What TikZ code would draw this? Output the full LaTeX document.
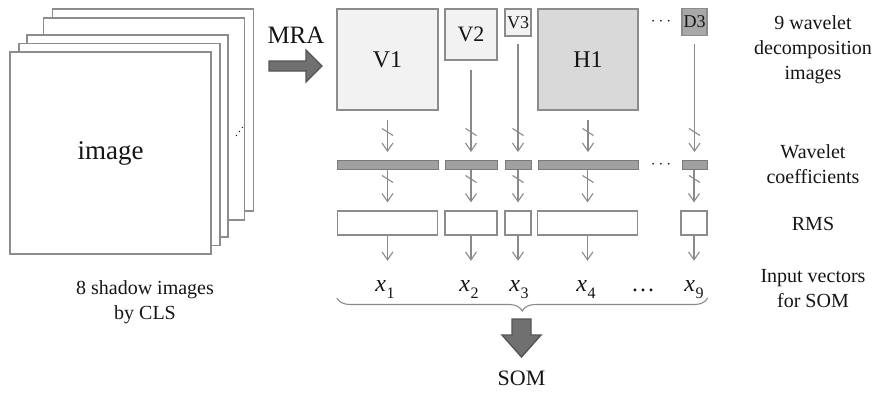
\documentclass[tikz,border=0pt]{standalone}
\usepackage{fontspec}
\setmainfont{Liberation Serif}
\usetikzlibrary{arrows.meta,decorations.pathreplacing,calc}
\definecolor{linegray}{HTML}{8A8A8A}
\definecolor{boxline}{HTML}{8C8C8C}
\definecolor{lightfill}{HTML}{F2F2F2}
\definecolor{midfill}{HTML}{D9D9D9}
\definecolor{darkfill}{HTML}{A8A8A8}
\definecolor{barfill}{HTML}{A0A0A0}
\definecolor{barline}{HTML}{7A7A7A}
\definecolor{bigfill}{HTML}{707070}
\definecolor{bigline}{HTML}{555555}
\definecolor{txt}{HTML}{151515}
\newcommand{\xsub}[1]{\textit{x}\kern0.5pt\raisebox{-0.32em}{\fontsize{16}{16}\selectfont #1}}
\begin{document}
\begin{tikzpicture}[x=1pt,y=-1pt,
  every node/.style={text=txt},
  layer/.style={draw=boxline, line width=1.4pt, fill=white, minimum width=201pt, minimum height=202pt, inner sep=0pt},
  dbox/.style={draw=boxline, line width=1.2pt, inner sep=0pt},
  barbox/.style={draw=barline, line width=1pt, fill=barfill, minimum height=9pt, inner sep=0pt},
  rmsbox/.style={draw=boxline, line width=1.2pt, fill=white, minimum height=24pt, inner sep=0pt},
  arr/.style={draw=linegray, line width=1.1pt, -{Straight Barb[length=8pt,width=11pt]}},
  slashst/.style={draw=linegray, line width=1.1pt},
  lbl/.style={align=center, font=\fontsize{20}{25}\selectfont},
  xlab/.style={anchor=base, inner sep=0pt, text height=14pt, text depth=0pt, font=\fontsize{24}{24}\selectfont},
  bigarrow/.style={fill=bigfill, draw=bigline, line width=1.4pt, line join=miter},
  bracest/.style={draw=linegray, line width=1.1pt, decorate, decoration={brace, mirror, amplitude=13pt}}
]
\useasboundingbox (0,0) rectangle (878,394);

% stacked shadow images
\node[layer] (L5) at (153,110) {};
\node[layer] (L4) at (144,119) {};
\node[layer] (L3) at (127.5,136) {};
\node[layer] (L2) at (119.5,144.5) {};
\node[layer, font=\fontsize{27}{27}\selectfont] (L1) at (110.5,153) {image};
\node[inner sep=0pt, font=\fontsize{12}{12}\selectfont] (sdots) at (236.5,132) {\rotatebox{90}{$\ddots$}};
\node[lbl] (shadow) at (145,302) {8 shadow images\\by CLS};

% MRA arrow
\node[font=\fontsize{25}{25}\selectfont] (mra) at (296,35) {MRA};
\draw[bigarrow] (269,61) -- (306,61) -- (306,50) -- (322,66) -- (306,82) -- (306,71) -- (269,71) -- cycle;

% decomposition images
\node[dbox, fill=lightfill, minimum width=101pt, minimum height=101pt, font=\fontsize{24}{24}\selectfont] (V1) at (387.5,59.5) {V1};
\node[dbox, fill=lightfill, minimum width=52pt, minimum height=51pt, font=\fontsize{22}{22}\selectfont] (V2) at (471,34.5) {V2};
\node[dbox, fill=lightfill, minimum width=26pt, minimum height=27pt, font=\fontsize{18}{18}\selectfont] (V3) at (518,22.5) {V3};
\node[dbox, fill=midfill, minimum width=100pt, minimum height=101pt, font=\fontsize{24}{24}\selectfont] (H1) at (588,59.5) {H1};
\node[dbox, fill=darkfill, minimum width=25pt, minimum height=27pt, font=\fontsize{18}{18}\selectfont] (D3) at (694.5,22) {D3};
\node[font=\fontsize{17}{17}\selectfont] (tdots) at (661,22) {$\cdots$};

% coefficient bars
\node[barbox, minimum width=101pt] (b1) at (387.5,165) {};
\node[barbox, minimum width=52pt] (b2) at (471,165) {};
\node[barbox, minimum width=26pt] (b3) at (518,165) {};
\node[barbox, minimum width=100pt] (b4) at (588,165) {};
\node[barbox, minimum width=25pt] (b5) at (694.5,165) {};
\node[font=\fontsize{17}{17}\selectfont] (bdots) at (661,165) {$\cdots$};

% RMS boxes
\node[rmsbox, minimum width=100pt] (r1) at (387.5,223) {};
\node[rmsbox, minimum width=52pt] (r2) at (471,223) {};
\node[rmsbox, minimum width=26pt] (r3) at (518,223) {};
\node[rmsbox, minimum width=100pt] (r4) at (587.5,223) {};
\node[rmsbox, minimum width=26pt] (r5) at (694,223) {};

% input vector labels
\node[xlab] (x1) at (385,291) {\xsub{1}};
\node[xlab] (x2) at (469,291) {\xsub{2}};
\node[xlab] (x3) at (519,291) {\xsub{3}};
\node[xlab] (x4) at (586,291) {\xsub{4}};
\node[xlab] (xd) at (643,291) {\dots};
\node[xlab] (x9) at (694,291) {\xsub{9}};

% arrows: images -> bars
\draw[arr, shorten <=9pt, shorten >=8pt] (V1) -- (b1);
\draw[arr, shorten <=9pt, shorten >=8pt] (V2) -- (b2);
\draw[arr, shorten <=7pt, shorten >=8pt] (V3) -- (b3);
\draw[arr, shorten <=9pt, shorten >=8pt] (H1) -- (b4);
\draw[arr, shorten <=7.5pt, shorten >=8pt] (D3) -- (b5);
% arrows: bars -> RMS
\draw[arr, shorten >=8pt] (b1) -- (r1);
\draw[arr, shorten >=8pt] (b2) -- (r2);
\draw[arr, shorten >=8pt] (b3) -- (r3);
\draw[arr, shorten >=8pt] (b4.south -| r4) -- (r4);
\draw[arr, shorten >=8pt] (b5.south -| r5) -- (r5);
% arrows: RMS -> x
\foreach \r/\x in {r1/x1, r2/x2, r3/x3, r4/x4, r5/x9}
  \draw[arr, shorten >=16pt] (\r.south) -- (\r.south |- \x.north);

% slash marks
\foreach \n in {V1,V2,V3,H1,D3}
  \draw[slashst] ($(\n.south |- 0,132)+(-5.5,-3.5)$) -- ++(11,7);
\foreach \n in {b1,b2,b3,b4,b5}
  \draw[slashst] ($(\n.south |- 0,179)+(-5.5,-3.5)$) -- ++(11,7);

% brace and SOM
\draw[bracest] (r1.west |- 0,298) -- (r5.east |- 0,298);
\draw[bigarrow] (512,319) -- (531,319) -- (531,335) -- (541,335) -- (521.5,357) -- (502,335) -- (512,335) -- cycle;
\node[font=\fontsize{22}{22}\selectfont] (som) at (521.5,378) {SOM};

% right labels
\node[lbl] (t1) at (813,50) {9 wavelet\\decomposition\\images};
\node[lbl] (t2) at (813,164) {Wavelet\\coefficients};
\node[lbl] (t3) at (813,224) {RMS};
\node[lbl] (t4) at (813,289) {Input vectors\\for SOM};
\end{tikzpicture}
\end{document}
